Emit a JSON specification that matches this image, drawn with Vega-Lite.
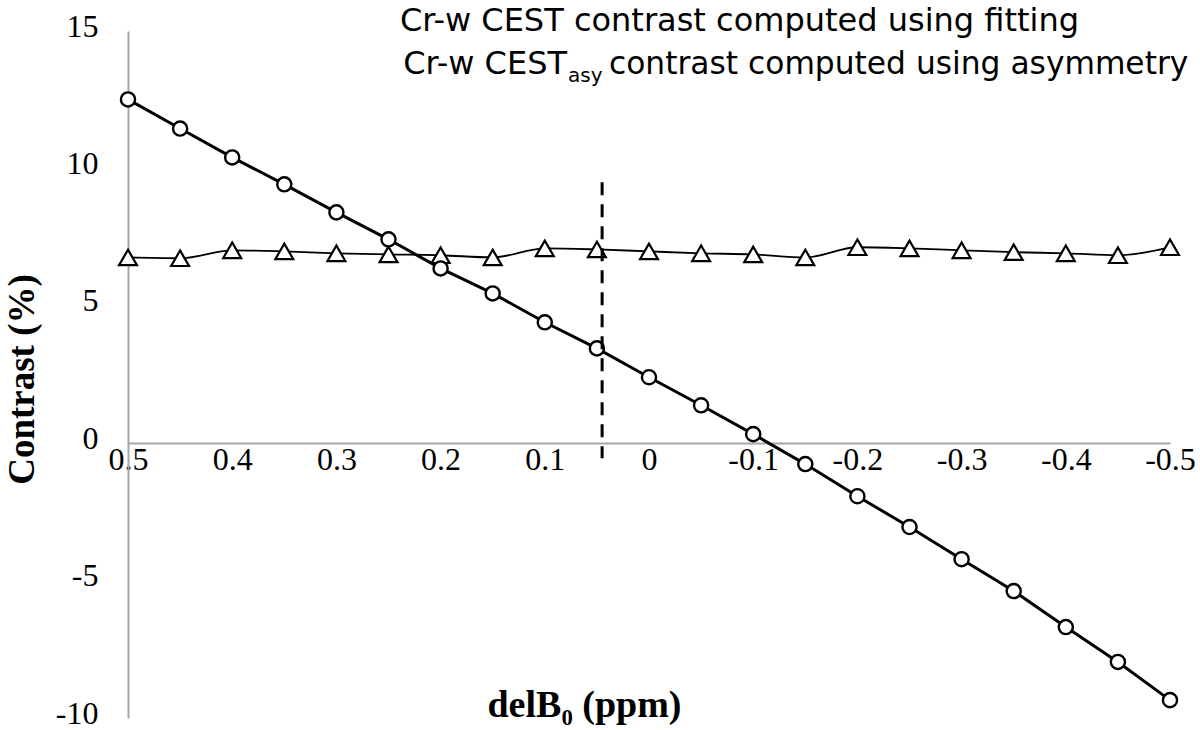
{
  "$schema": "https://vega.github.io/schema/vega-lite/v6.json",
  "width": 1042,
  "height": 687,
  "autosize": {"type": "none"},
  "padding": {"left": 128, "top": 31, "right": 30, "bottom": 12},
  "background": "white",
  "config": {
    "view": {"stroke": null},
    "axis": {"grid": false, "ticks": false, "domainColor": "#a6a6a6", "domainWidth": 2, "labelColor": "black", "titleColor": "black"}
  },
  "datasets": {
    "cest": [
      {"delB0": 0.5, "fit": 12.51, "asy": 6.76},
      {"delB0": 0.45, "fit": 11.45, "asy": 6.73},
      {"delB0": 0.4, "fit": 10.4, "asy": 7.02},
      {"delB0": 0.35, "fit": 9.42, "asy": 6.98},
      {"delB0": 0.3, "fit": 8.4, "asy": 6.91},
      {"delB0": 0.25, "fit": 7.42, "asy": 6.87},
      {"delB0": 0.2, "fit": 6.36, "asy": 6.84},
      {"delB0": 0.15, "fit": 5.45, "asy": 6.76},
      {"delB0": 0.1, "fit": 4.4, "asy": 7.09},
      {"delB0": 0.05, "fit": 3.45, "asy": 7.05},
      {"delB0": 0.0, "fit": 2.4, "asy": 6.98},
      {"delB0": -0.05, "fit": 1.38, "asy": 6.91},
      {"delB0": -0.1, "fit": 0.33, "asy": 6.87},
      {"delB0": -0.15, "fit": -0.76, "asy": 6.76},
      {"delB0": -0.2, "fit": -1.93, "asy": 7.13},
      {"delB0": -0.25, "fit": -3.05, "asy": 7.09},
      {"delB0": -0.3, "fit": -4.22, "asy": 7.02},
      {"delB0": -0.35, "fit": -5.38, "asy": 6.95},
      {"delB0": -0.4, "fit": -6.69, "asy": 6.91},
      {"delB0": -0.45, "fit": -7.96, "asy": 6.84},
      {"delB0": -0.5, "fit": -9.35, "asy": 7.13}
    ],
    "one": [{}]
  },
  "layer": [
    {
      "data": {"name": "cest"},
      "mark": {"type": "line", "color": "black", "strokeWidth": 1.8, "interpolate": "monotone"},
      "encoding": {
        "x": {
          "field": "delB0", "type": "quantitative",
          "scale": {"domain": [0.5, -0.5], "nice": false, "zero": false},
          "axis": {
            "orient": "bottom", "offset": -275, "values": [0.5, 0.4, 0.3, 0.2, 0.1, 0, -0.1, -0.2, -0.3, -0.4, -0.5],
            "labelExpr": "'' + datum.value",
            "labelFont": "Liberation Serif", "labelFontSize": 32, "labelPadding": 1, "labelFlush": false, "labelOverlap": false,
            "title": "delB₀ (ppm)", "titleFont": "Liberation Serif", "titleFontSize": 38, "titleFontWeight": "bold",
            "titleX": 456, "titleY": 262, "titleBaseline": "middle", "titleAlign": "center"
          }
        },
        "y": {
          "field": "asy", "type": "quantitative",
          "scale": {"domain": [-10, 15], "nice": false, "zero": false},
          "axis": {
            "values": [-10, -5, 0, 5, 10, 15],
            "labelExpr": "'' + datum.value",
            "labelFont": "Liberation Serif", "labelFontSize": 32, "labelPadding": 30, "labelOffset": -5, "labelFlush": false, "labelOverlap": false,
            "title": "Contrast (%)", "titleFont": "Liberation Serif", "titleFontSize": 37, "titleFontWeight": "bold",
            "titleX": -106, "titleY": 348, "titleBaseline": "middle", "titleAlign": "center", "titleAngle": -90
          }
        }
      }
    },
    {
      "data": {"name": "cest"},
      "mark": {"type": "point", "shape": "triangle-up", "filled": true, "fill": "white", "stroke": "black", "strokeWidth": 2.2, "size": 320, "opacity": 1},
      "encoding": {
        "x": {"field": "delB0", "type": "quantitative"},
        "y": {"field": "asy", "type": "quantitative"}
      }
    },
    {
      "data": {"name": "cest"},
      "mark": {"type": "line", "color": "black", "strokeWidth": 3},
      "encoding": {
        "x": {"field": "delB0", "type": "quantitative"},
        "y": {"field": "fit", "type": "quantitative"}
      }
    },
    {
      "data": {"name": "cest"},
      "mark": {"type": "point", "shape": "circle", "filled": true, "fill": "white", "stroke": "black", "strokeWidth": 2.4, "size": 200, "opacity": 1},
      "encoding": {
        "x": {"field": "delB0", "type": "quantitative"},
        "y": {"field": "fit", "type": "quantitative"}
      }
    },
    {
      "data": {"name": "one"},
      "mark": {"type": "rule", "color": "black", "strokeWidth": 3, "strokeDash": [13, 9]},
      "encoding": {
        "x": {"datum": 0.045, "type": "quantitative"},
        "y": {"datum": 9.5, "type": "quantitative"},
        "y2": {"datum": -0.55}
      }
    },
    {
      "data": {"name": "one"},
      "mark": {"type": "text", "align": "left", "baseline": "alphabetic", "font": "DejaVu Sans", "fontSize": 32, "color": "black"},
      "encoding": {
        "x": {"datum": 0.239, "type": "quantitative"},
        "y": {"datum": 15.0, "type": "quantitative"},
        "text": {"value": "Cr-w CEST contrast computed using fitting"}
      }
    },
    {
      "data": {"name": "one"},
      "mark": {"type": "text", "align": "right", "baseline": "alphabetic", "font": "DejaVu Sans", "fontSize": 32, "color": "black"},
      "encoding": {
        "x": {"datum": 0.0787, "type": "quantitative"},
        "y": {"datum": 13.42, "type": "quantitative"},
        "text": {"value": "Cr-w CEST"}
      }
    },
    {
      "data": {"name": "one"},
      "mark": {"type": "text", "align": "left", "baseline": "alphabetic", "font": "DejaVu Sans", "fontSize": 20, "color": "black"},
      "encoding": {
        "x": {"datum": 0.0777, "type": "quantitative"},
        "y": {"datum": 13.13, "type": "quantitative"},
        "text": {"value": "asy"}
      }
    },
    {
      "data": {"name": "one"},
      "mark": {"type": "text", "align": "left", "baseline": "alphabetic", "font": "DejaVu Sans", "fontSize": 31.3, "color": "black"},
      "encoding": {
        "x": {"datum": 0.0384, "type": "quantitative"},
        "y": {"datum": 13.42, "type": "quantitative"},
        "text": {"value": "contrast computed using asymmetry"}
      }
    }
  ]
}
